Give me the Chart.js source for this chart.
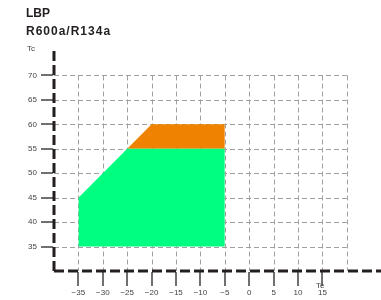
<!DOCTYPE html>
<html>
<head>
<meta charset="utf-8">
<script src="https://cdn.jsdelivr.net/npm/chart.js@4/dist/chart.umd.min.js"></script>
<style>
  html, body { margin: 0; padding: 0; background: #fff; }
  #wrap { width: 381px; height: 300px; position: relative; }
</style>
</head>
<body>
<div id="wrap"><canvas id="c"></canvas></div>
<script>
// ---- data ----
const titleLines = ['LBP', 'R600a/R134a'];
const xAxisLabel = 'Te';
const yAxisLabel = 'Tc';
const xTicks = [-35, -30, -25, -20, -15, -10, -5, 0, 5, 10, 15];
const yTicks = [35, 40, 45, 50, 55, 60, 65, 70];
const xGrid = [-35, -30, -25, -20, -15, -10, -5, 0, 5, 10, 15, 20];
const yGrid = [35, 40, 45, 50, 55, 60, 65, 70];
// green envelope (top edge, filled down to 35)
const greenTe = [-35, -35, -25, -5, -5];
const greenTc = [35, 45, 55, 55, 35];
const greenBase = 35;
// orange envelope (top edge, filled down to 55)
const orangeTe = [-25, -20, -5, -5];
const orangeTc = [55, 60, 60, 55];
const orangeBase = 55;

const pts = (xs, ys) => xs.map((x, i) => ({ x: x, y: ys[i] }));
const minus = v => (v < 0 ? '\u2212' + Math.abs(v) : String(v));

const decor = {
  id: 'decor',
  beforeDatasetsDraw(chart) {
    const { ctx, chartArea: a, scales: { x, y } } = chart;
    ctx.save();
    ctx.strokeStyle = '#a0a0a0';
    ctx.lineWidth = 1;
    ctx.setLineDash([5, 3]);
    const xr = x.getPixelForValue(xGrid[xGrid.length - 1]);
    const yt = y.getPixelForValue(yGrid[yGrid.length - 1]);
    yGrid.forEach(v => {
      const py = Math.round(y.getPixelForValue(v)) + 0.5;
      ctx.beginPath(); ctx.moveTo(a.left, py); ctx.lineTo(xr, py); ctx.stroke();
    });
    xGrid.forEach(v => {
      const px = Math.round(x.getPixelForValue(v)) + 0.5;
      ctx.beginPath(); ctx.moveTo(px, yt); ctx.lineTo(px, a.bottom); ctx.stroke();
    });
    ctx.restore();
  },
  afterDraw(chart) {
    const { ctx, chartArea: a, scales: { x, y } } = chart;
    ctx.save();
    const x0 = Math.round(a.left);
    const y0 = Math.round(a.bottom);
    // tick marks
    ctx.fillStyle = '#707070';
    yTicks.forEach(v => {
      const py = Math.round(y.getPixelForValue(v));
      ctx.fillRect(x0 - 13, py - 1, 12, 2);
    });
    xTicks.forEach(v => {
      const px = Math.round(x.getPixelForValue(v));
      ctx.fillRect(px - 1, y0 + 1, 2, 14);
    });
    // axes
    ctx.strokeStyle = '#231f20';
    ctx.lineWidth = 3;
    ctx.setLineDash([10, 4]);
    ctx.beginPath(); ctx.moveTo(x0, y0); ctx.lineTo(a.right, y0); ctx.stroke();
    ctx.beginPath(); ctx.moveTo(x0, y0); ctx.lineTo(x0, a.top); ctx.stroke();
    ctx.setLineDash([]);
    // titles
    ctx.fillStyle = '#231f20';
    ctx.textBaseline = 'alphabetic';
    ctx.textAlign = 'left';
    ctx.font = 'bold 12px "Liberation Sans", Arial, sans-serif';
    ctx.fillText(titleLines[0], 26, 17);
    ctx.letterSpacing = '1px';
    ctx.fillText(titleLines[1], 26, 35);
    ctx.letterSpacing = '0px';
    ctx.font = '8px "Liberation Sans", Arial, sans-serif';
    ctx.fillStyle = '#444';
    ctx.fillText(yAxisLabel, 27, 51);
    ctx.fillText(xAxisLabel, 316, 288);
    ctx.restore();
  }
};

new Chart(document.getElementById('c'), {
  type: 'line',
  data: {
    datasets: [
      {
        data: pts(greenTe, greenTc),
        borderWidth: 0,
        borderColor: 'rgba(0,0,0,0)',
        backgroundColor: '#00ff80',
        pointRadius: 0,
        fill: { value: greenBase },
        tension: 0
      },
      {
        data: pts(orangeTe, orangeTc),
        borderWidth: 0,
        borderColor: 'rgba(0,0,0,0)',
        backgroundColor: '#ef8200',
        pointRadius: 0,
        fill: { value: orangeBase },
        tension: 0
      }
    ]
  },
  options: {
    responsive: true,
    maintainAspectRatio: false,
    animation: false,
    layout: { padding: { top: 51, right: 0, left: 0, bottom: 0 } },
    plugins: { legend: { display: false }, title: { display: false }, tooltip: { enabled: false } },
    scales: {
      x: {
        type: 'linear',
        min: -40, max: 27,
        afterBuildTicks: s => { s.ticks = xTicks.map(v => ({ value: v })); },
        afterFit: s => { s.height = 29; },
        border: { display: false },
        grid: { display: false, tickLength: 14 },
        ticks: {
          autoSkip: false, maxRotation: 0, padding: 3,
          color: '#444',
          font: { family: '"Liberation Sans", Arial, sans-serif', size: 8 },
          callback: v => minus(v)
        }
      },
      y: {
        type: 'linear',
        min: 30, max: 75,
        afterBuildTicks: s => { s.ticks = yTicks.map(v => ({ value: v })); },
        afterFit: s => { s.width = 54; },
        border: { display: false },
        grid: { display: false, tickLength: 13 },
        ticks: {
          padding: 4,
          color: '#444',
          font: { family: '"Liberation Sans", Arial, sans-serif', size: 8 },
          callback: v => String(v)
        }
      }
    }
  },
  plugins: [decor]
});
</script>
</body>
</html>
